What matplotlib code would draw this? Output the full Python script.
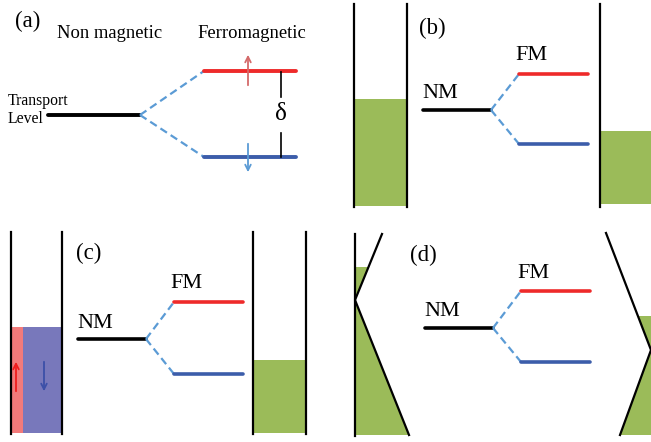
import matplotlib.pyplot as plt
from matplotlib.patches import Polygon, Rectangle

plt.rcParams['font.family'] = ['Liberation Serif', 'DejaVu Serif']

# panel labels and texts
panel_labels = ['(a)', '(b)', '(c)', '(d)']
label_pos = [(28, 21), (432, 28), (89, 253), (423, 255)]
nm_text = 'NM'
fm_text = 'FM'

# splitting diagrams (b)-(d): x0 of black line, NM level y, FM up y, FM down y
split_x0 = [423, 78, 425]
nm_level = [110, 339, 328]
fm_up = [74, 302, 291]
fm_down = [144, 374, 362]

# filling levels of the wells
fill_b = [99, 131]
fill_c_left = 327
fill_c_right = 360

RED = '#ee2a2a'
BLUE = '#3c5daa'
DASH = '#5b9bd5'
GREEN = '#9bbb59'

fig = plt.figure(figsize=(6.51, 4.42), dpi=100)
ax = fig.add_axes([0, 0, 1, 1])
ax.set_xlim(0, 651)
ax.set_ylim(442, 0)
ax.axis('off')


def splitting(x0, y_nm, y_up, y_dn, w_nm=68, w_gap=28, w_fm=69, lw=2.6):
    x1 = x0 + w_nm
    x2 = x1 + w_gap
    ax.plot([x0, x1], [y_nm, y_nm], color='black', lw=lw, solid_capstyle='round')
    ax.plot([x1, x2], [y_nm, y_up], color=DASH, lw=1.6, ls=(0, (3.5, 2)))
    ax.plot([x1, x2], [y_nm, y_dn], color=DASH, lw=1.6, ls=(0, (3.5, 2)))
    ax.plot([x2, x2 + w_fm], [y_up, y_up], color=RED, lw=lw, solid_capstyle='round')
    ax.plot([x2, x2 + w_fm], [y_dn, y_dn], color=BLUE, lw=lw, solid_capstyle='round')
    return x1, x2


# ---- panel (a)
splitting(48, 115, 71, 157, w_nm=92, w_gap=64, w_fm=92, lw=2.8)
ax.text(8, 101, 'Transport', fontsize=11.3, ha='left', va='center')
ax.text(8, 119, 'Level', fontsize=11.3, ha='left', va='center')
ax.text(110, 33, 'Non magnetic', fontsize=13.4, ha='center', va='center')
ax.text(252, 33, 'Ferromagnetic', fontsize=13.4, ha='center', va='center')
ax.annotate('', xy=(248, 52), xytext=(248, 88),
            arrowprops=dict(arrowstyle='->', color='#d46a6a', lw=1.3))
ax.annotate('', xy=(248, 175), xytext=(248, 141),
            arrowprops=dict(arrowstyle='->', color='#5b9bd5', lw=1.3))
ax.plot([281, 281], [72, 97], color='black', lw=1.2)
ax.plot([281, 281], [133, 157], color='black', lw=1.2)
ax.text(281, 114, 'δ', fontsize=18, ha='center', va='center')

# ---- panel (b)
ax.add_patch(Rectangle((354, fill_b[0]), 53, 206 - fill_b[0], color=GREEN, lw=0))
ax.add_patch(Rectangle((600, fill_b[1]), 60, 204 - fill_b[1], color=GREEN, lw=0))
for x in [354, 407, 600]:
    ax.plot([x, x], [4, 207], color='black', lw=1.6)

# ---- panel (c)
ax.add_patch(Rectangle((11, fill_c_left), 12, 433 - fill_c_left, color='#f27a7a', lw=0))
ax.add_patch(Rectangle((23, fill_c_left), 39, 433 - fill_c_left, color='#7878bb', lw=0))
ax.add_patch(Rectangle((253, fill_c_right), 53, 433 - fill_c_right, color=GREEN, lw=0))
for x in [11, 62, 253, 306]:
    ax.plot([x, x], [232, 434], color='black', lw=1.6)
ax.annotate('', xy=(16, 359), xytext=(16, 394),
            arrowprops=dict(arrowstyle='->', color='#ee1c1c', lw=1.3))
ax.annotate('', xy=(44, 394), xytext=(44, 359),
            arrowprops=dict(arrowstyle='->', color='#3c50a8', lw=1.3))

# ---- panel (d)
ax.add_patch(Polygon([(355, 267), (368.5, 267), (355, 300), (409, 435), (355, 435)],
                     closed=True, color=GREEN, lw=0))
ax.add_patch(Polygon([(638, 316), (660, 316), (660, 435), (620, 435), (651, 350)],
                     closed=True, color=GREEN, lw=0))
ax.plot([355, 355], [234, 436], color='black', lw=1.6)
ax.plot([382, 355, 409], [234, 300, 435], color='black', lw=1.6)
ax.plot([606, 651, 620], [233, 350, 435], color='black', lw=1.6)

# ---- splitting diagrams (b)-(d)
for x0, yn, yu, yd in zip(split_x0, nm_level, fm_up, fm_down):
    x1, x2 = splitting(x0, yn, yu, yd)
    ax.text(x0 + 17, yn - 16, nm_text, fontsize=16, ha='center', va='center')
    ax.text(x2 + 12, yu - 18, fm_text, fontsize=16, ha='center', va='center')

for lab, (x, y) in zip(panel_labels, label_pos):
    ax.text(x, y, lab, fontsize=16.5, ha='center', va='center')

fig.savefig('out.png', dpi=100)
